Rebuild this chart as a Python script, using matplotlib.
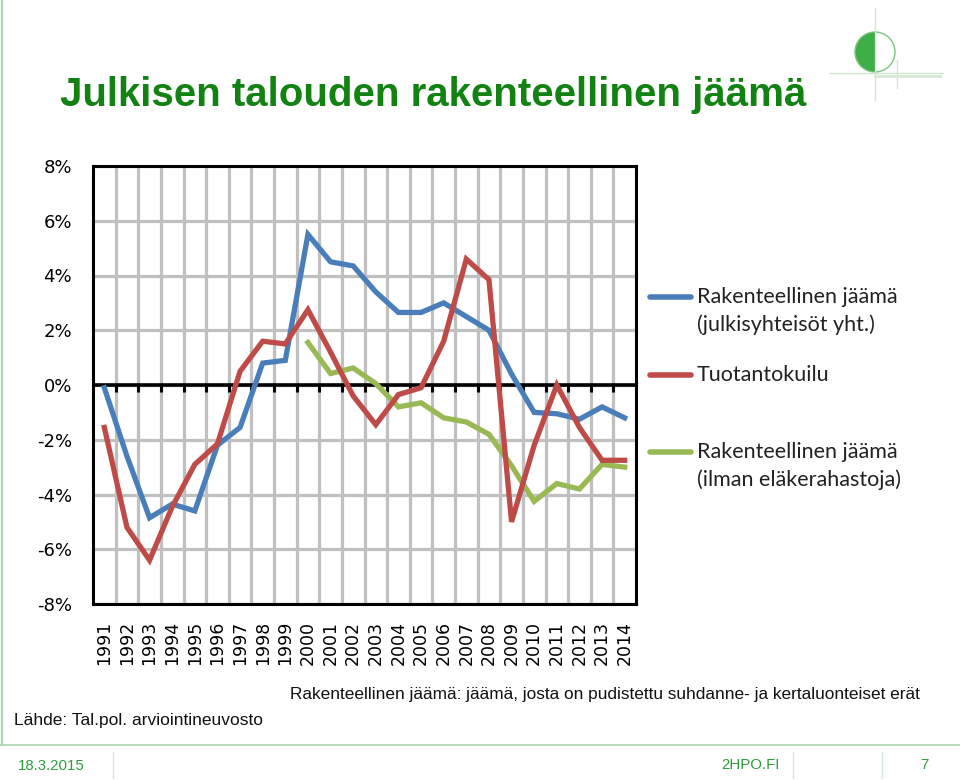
import matplotlib
matplotlib.use("Agg")
import matplotlib.pyplot as plt
from matplotlib.patches import Circle, Wedge
import numpy as np

# ---------------- data ----------------
years = [str(y) for y in range(1991, 2015)]
rak_jaama = [-0.1, -2.6, -4.85, -4.35, -4.6, -2.2, -1.55, 0.8, 0.9, 5.5, 4.5, 4.35,
             3.4, 2.65, 2.65, 3.0, 2.5, 2.0, 0.4, -1.0, -1.05, -1.25, -0.8, -1.2]
tuotantokuilu = [-1.55, -5.2, -6.4, -4.45, -2.9, -2.15, 0.5, 1.6, 1.5, 2.75, 1.2, -0.4,
                 -1.45, -0.35, -0.1, 1.6, 4.6, 3.85, -5.0, -2.2, 0.0, -1.55, -2.75, -2.75]
ilman_years = years[9:]
ilman_elake = [1.55, 0.42, 0.62, 0.05, -0.8, -0.65, -1.2, -1.35, -1.8, -2.95, -4.25,
               -3.6, -3.8, -2.9, -3.0]
yticks = [8, 6, 4, 2, 0, -2, -4, -6, -8]
ytick_labels = [f"{v}%" for v in yticks]

legend_labels = [["Rakenteellinen jäämä", "(julkisyhteisöt yht.)"],
                 ["Tuotantokuilu"],
                 ["Rakenteellinen jäämä", "(ilman eläkerahastoja)"]]

title = "Julkisen talouden rakenteellinen jäämä"
note = "Rakenteellinen jäämä: jäämä, josta on pudistettu suhdanne- ja kertaluonteiset erät"
source = "Lähde: Tal.pol. arviointineuvosto"

BLUE = "#4a7ebb"
RED = "#be4b48"
GREEN = "#98b954"
TITLE_GREEN = "#128212"
FOOT_GREEN = "#2f9e3f"
LINE_GREEN = "#a9d6a9"

W, H = 960, 780
fig = plt.figure(figsize=(W / 100, H / 100), dpi=100)

# background layer in pixel coordinates
bg = fig.add_axes([0, 0, 1, 1], zorder=0)
bg.set_xlim(0, W)
bg.set_ylim(H, 0)
bg.axis("off")

# left border and footer lines
bg.plot([2, 2], [0, 745], color=LINE_GREEN, lw=1.5)
bg.plot([0, W], [745, 745], color=LINE_GREEN, lw=1.2)
for xs in [113, 793, 882]:
    bg.plot([xs, xs], [752, 778], color="#d8e8d8", lw=1.0)
bg.text(18, 766, "18.3.2015", color=FOOT_GREEN, fontsize=10.8, family="Liberation Sans",
        va="center", ha="left")
bg.text(780, 765, "2HPO.FI", color=FOOT_GREEN, fontsize=10.8, family="Liberation Sans",
        va="center", ha="right")
bg.text(924, 765, "7", color=FOOT_GREEN, fontsize=10.8, family="Liberation Sans",
        va="center", ha="center")

# logo
cx, cy, r = 875, 52, 20
bg.plot([cx, cx], [8, 100], color="#cfe6cf", lw=1.0)
bg.plot([830, 943], [73, 73], color="#cfe6cf", lw=1.0)
bg.plot([897, 897], [60, 88], color="#cfe6cf", lw=1.0)
bg.add_patch(Wedge((cx, cy), r, 90, 270, facecolor="#3fae46", edgecolor="none"))
bg.add_patch(Circle((cx, cy), r, facecolor="none", edgecolor="#7cc47f", lw=1.0))
bg.plot([cx, 940], [75.5, 75.5], color="#d5ead5", lw=2.0)

# title
bg.text(60, 95, title, color=TITLE_GREEN, fontsize=29, fontweight="bold",
        family="Liberation Sans", va="center", ha="left")

# notes
bg.text(290, 695, note, color="#111111", fontsize=12.4, family="Liberation Sans",
        va="center", ha="left")
bg.text(14, 720, source, color="#111111", fontsize=12.5, family="Liberation Sans",
        va="center", ha="left")

# legend (manual, pixel coords)
leg_colors = [BLUE, RED, GREEN]
leg_y = [297, 375, 452]
for col, y0, labs in zip(leg_colors, leg_y, legend_labels):
    bg.plot([650, 691], [y0, y0], color=col, lw=4.0, solid_capstyle="round")
    for k, lab in enumerate(labs):
        bg.text(697, y0 + k * 28, lab, color="#222222", fontsize=15.5, family="Lato",
                va="center", ha="left")

# ---------------- chart ----------------
left, right, top, bottom = 93, 636, 166, 604
ax = fig.add_axes([left / W, 1 - bottom / H, (right - left) / W, (bottom - top) / H], zorder=1)
ax.patch.set_alpha(0)

x = np.arange(len(years))
xg = np.arange(len(ilman_years)) + years.index(ilman_years[0])

ax.set_xlim(-0.5, len(years) - 0.5)
ax.set_ylim(-8, 8)

ax.set_yticks(yticks)
ax.set_yticklabels(ytick_labels, fontsize=13, family="DejaVu Sans")
ax.set_xticks(x)
ax.set_xticklabels(years, rotation=90, fontsize=12.5, family="DejaVu Sans")
ax.set_xticks(np.arange(0.5, len(years) - 0.5, 1), minor=True)
ax.tick_params(axis="both", which="both", length=0)
ax.tick_params(axis="y", pad=15)
ax.tick_params(axis="x", pad=12)

ax.grid(True, axis="y", which="major", color="#c0c0c0", lw=2.3)
ax.grid(True, axis="x", which="minor", color="#c0c0c0", lw=2.3)
ax.grid(False, axis="x", which="major")
ax.set_axisbelow(True)

for sp in ax.spines.values():
    sp.set_color("black")
    sp.set_linewidth(2.2)

ax.axhline(0, color="black", lw=2.6, zorder=2)
ax.vlines(np.arange(0.5, len(years) - 0.5, 1), -0.25, 0, color="black", lw=2.2, zorder=2)

ax.plot(x, rak_jaama, color=BLUE, lw=3.8, zorder=3, solid_joinstyle="miter")
ax.plot(x, tuotantokuilu, color=RED, lw=3.8, zorder=4, solid_joinstyle="miter")
ax.plot(xg, ilman_elake, color=GREEN, lw=3.8, zorder=3, solid_joinstyle="miter")

fig.savefig("out.png", dpi=100)
